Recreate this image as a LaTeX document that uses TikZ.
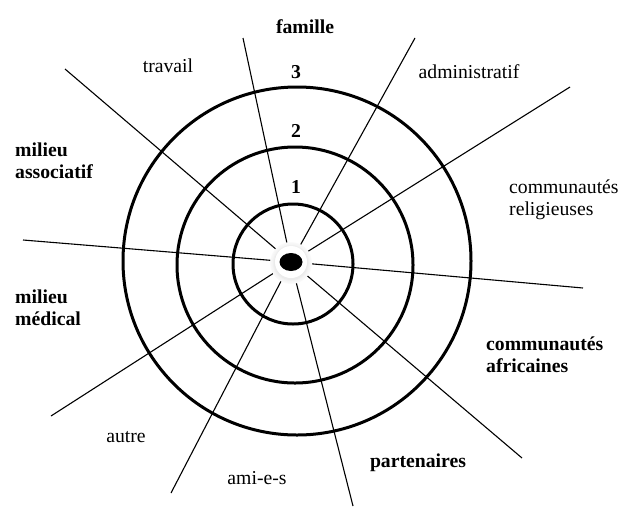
\documentclass[tikz,border=0pt]{standalone}
\usepackage{fontspec}
\setmainfont{Liberation Serif}
\begin{document}
\begin{tikzpicture}[x=1pt,y=-1pt,
  ring/.style={draw=black, line width=3pt},
  spoke/.style={draw=black, line width=1.1pt},
  lbl/.style={inner sep=0pt, font=\fontsize{19.7}{22}\selectfont},
  blbl/.style={inner sep=0pt, font=\fontsize{19.7}{22}\selectfont\bfseries},
  mlbl/.style={inner sep=0pt, align=left, anchor=west, font=\fontsize{19.7}{22}\selectfont},
  mblbl/.style={inner sep=0pt, align=left, anchor=west, font=\fontsize{19.7}{22}\selectfont\bfseries}]
\useasboundingbox (0,0) rectangle (620,512);
% rings
\draw[ring] (293,264) circle[radius=60pt];
\draw[ring] (295,265) circle[radius=118pt];
\draw[ring] (297,261) circle[radius=174pt];
% centre
\coordinate (c) at (291,262);
% free ends of the spokes
\coordinate (eFam) at (243,38);
\coordinate (eAdm) at (415,38);
\coordinate (eTra) at (65,69);
\coordinate (eRel) at (570,87);
\coordinate (eLft) at (23,240);
\coordinate (eRgt) at (583,288);
\coordinate (eAut) at (51,416);
\coordinate (eAmi) at (171,493);
\coordinate (ePar) at (353,506);
\coordinate (eAfr) at (522,458);
\foreach \e in {eFam,eAdm,eTra,eRel,eLft,eRgt,eAut,eAmi,ePar,eAfr}
  \draw[spoke] (c) -- (\e);
% soft halo and dot
\foreach \r/\g in {21/2,20/3,19/4,18/6,17/8}
  \fill[black!\g] ([yshift=-1pt]c) circle[radius=\r pt];
\fill[white] (c) circle[radius=16pt];
\fill[black] (c) ellipse[x radius=11.5pt, y radius=9pt];
% labels
\node[blbl] (famille) at (305,27) {famille};
\node[lbl] (travail) at (168,66) {travail};
\node[lbl] (admin) at (469,72) {administratif};
\node[blbl] (n3) at (296,72) {3};
\node[blbl] (n2) at (296,131) {2};
\node[blbl] (n1) at (296,187) {1};
\node[mblbl] (massoc) at (15,161) {milieu\\associatif};
\node[mlbl] (crel) at (509,200) {communautés\\religieuses};
\node[mblbl] (mmed) at (15,308) {milieu\\médical};
\node[mblbl] (cafr) at (486,355) {communautés\\africaines};
\node[lbl] (autre) at (126,437) {autre};
\node[lbl] (amis) at (257,478) {ami-e-s};
\node[blbl] (part) at (418,463) {partenaires};
\end{tikzpicture}
\end{document}
